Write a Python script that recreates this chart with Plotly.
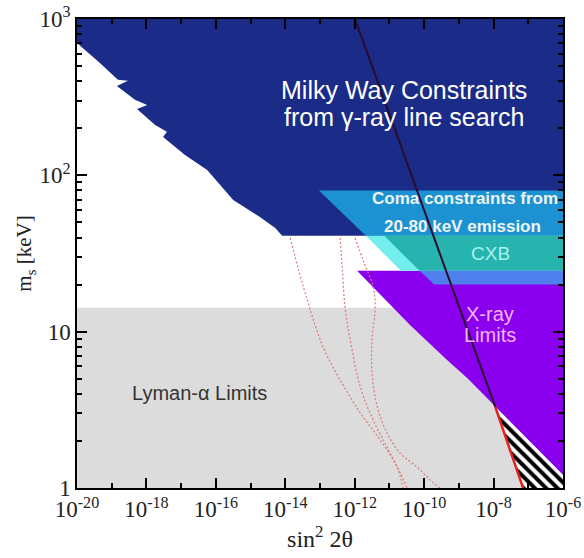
import plotly.graph_objects as go

# ---------------- data (sin^2 2theta , m_s [keV]) ----------------
mw_edge_x = [1e-20, 4.57e-20, 1.51e-19, 2.95e-19, 1.41e-19, 4.68e-19, 1.05e-18, 5.37e-19,
             1.78e-18, 3.89e-18, 3.02e-18, 1.29e-17, 5.62e-17, 3.16e-16, 1.86e-15, 5.13e-15, 8.13e-15]
mw_edge_y = [703, 524, 408, 402, 373, 304, 282, 266, 210, 190, 176, 135, 108, 69.6, 54.2, 46.1, 41]

coma_upper_x = [9.3e-14, 1e-6, 1e-6, 2.09e-12]
coma_upper_y = [80, 80, 41, 41]
coma_lower_x = [2.09e-12, 1e-6, 1e-6, 2.14e-11]
coma_lower_y = [41, 41, 24.5, 24.5]
cxb_x = [7.1e-12, 1e-6, 1e-6, 7.4e-11]
cxb_y = [41, 41, 24.5, 24.5]
strip_x = [7.4e-11, 1e-6, 1e-6, 1.95e-10]
strip_y = [24.5, 24.5, 20, 20]

xray_x = [1.17e-12, 1e-6, 1e-6, 1.12e-8, 5.01e-9, 1.74e-9, 4.57e-10, 3.98e-11]
xray_y = [24.5, 24.5, 1.21, 3.30, 3.94, 5.06, 6.59, 11.0]

hatch_x = [1.12e-8, 1e-6, 1e-6, 7.08e-8]
hatch_y = [3.30, 1.21, 1, 1]

lyman_x = [1e-20, 1e-6, 1e-6, 1e-20]
lyman_y = [1, 1, 14.2, 14.2]

dark_line_x = [1.02e-12, 1.12e-8]
dark_line_y = [1000, 3.30]
red_line_x = [1.12e-8, 7.08e-8]
red_line_y = [3.30, 1]

dot1_x = [1.38e-14, 4.27e-14, 1.23e-13, 3.80e-13, 1.45e-12, 5.37e-12, 1.66e-11, 2.45e-11]
dot1_y = [39.8, 16.0, 7.98, 4.91, 3.02, 2.03, 1.36, 1.0]
dot2_x = [3.80e-13, 4.37e-13, 5.25e-13, 7.41e-13, 1.45e-12, 3.39e-12, 8.51e-12, 2.04e-11, 3.24e-11]
dot2_y = [39.8, 25.9, 14.4, 8.85, 4.43, 2.72, 1.83, 1.25, 1.0]
dot3_x = [1.02e-12, 1.74e-12, 3.39e-12, 3.89e-12, 3.16e-12, 3.16e-12, 4.47e-12, 8.51e-12,
          2.04e-11, 6.31e-11, 1.82e-10, 2.88e-10]
dot3_y = [39.8, 28.7, 19.3, 14.4, 8.85, 5.44, 3.30, 2.25, 1.67, 1.36, 1.08, 1.0]

x_major = [1e-20, 1e-18, 1e-16, 1e-14, 1e-12, 1e-10, 1e-8, 1e-6]
x_major_text = ["10<sup>-20</sup>", "10<sup>-18</sup>", "10<sup>-16</sup>", "10<sup>-14</sup>",
                "10<sup>-12</sup>", "10<sup>-10</sup>", "10<sup>-8</sup>", "10<sup>-6</sup>"]
x_minor = [1e-19, 1e-17, 1e-15, 1e-13, 1e-11, 1e-9, 1e-7]
y_major = [1, 10, 100, 1000]
y_major_text = ["1", "10", "10<sup>2</sup>", "10<sup>3</sup>"]
y_minor = [m * d for d in (1, 10, 100) for m in range(2, 10)]

# ---------------- figure ----------------
fig = go.Figure()


def poly(x, y, color, **kw):
    fig.add_trace(go.Scatter(x=x + x[:1], y=y + y[:1], mode="lines", fill="toself",
                             fillcolor=color, line=dict(width=0, color=color),
                             hoverinfo="skip", showlegend=False, **kw))


# Milky Way region
mw_x = [1e-20, 1e-6, 1e-6] + mw_edge_x[::-1]
mw_y = [1000, 1000, 41] + mw_edge_y[::-1]
poly(mw_x, mw_y, "#1b2b88")
poly(lyman_x, lyman_y, "#dcdcdc")
poly(xray_x, xray_y, "#8a00ee")
poly(coma_upper_x, coma_upper_y, "#1d92d2")
poly(coma_lower_x, coma_lower_y, "#72eeee")
poly(cxb_x, cxb_y, "#27b4ae")
poly(strip_x, strip_y, "#4f80ee")

fig.add_trace(go.Scatter(x=hatch_x + hatch_x[:1], y=hatch_y + hatch_y[:1], mode="lines",
                         fill="toself", fillcolor="white", line=dict(width=0),
                         fillpattern=dict(shape="\\", fgcolor="black", bgcolor="white",
                                          fgopacity=1, size=8, solidity=0.5),
                         hoverinfo="skip", showlegend=False))

for dx, dy in ((dot1_x, dot1_y), (dot2_x, dot2_y), (dot3_x, dot3_y)):
    fig.add_trace(go.Scatter(x=dx, y=dy, mode="lines",
                             line=dict(color="#e07878", width=1.2, dash="2px,2px", shape="spline"),
                             hoverinfo="skip", showlegend=False))

fig.add_trace(go.Scatter(x=dark_line_x, y=dark_line_y, mode="lines",
                         line=dict(color="#2a0c2e", width=2), showlegend=False, hoverinfo="skip"))
fig.add_trace(go.Scatter(x=red_line_x, y=red_line_y, mode="lines",
                         line=dict(color="#e8201c", width=2.5), showlegend=False, hoverinfo="skip"))

sans = "Liberation Sans, Arial, sans-serif"
texts = [
    (-10.59, 2.546, "Milky Way Constraints", 25, "white", False),
    (-10.59, 2.375, "from γ-ray line search", 25, "white", False),
    (-8.82, 1.85, "Coma constraints from", 17, "#eef4f4", True),
    (-8.90, 1.67, "20-80 keV emission", 17, "#eef4f4", True),
    (-8.10, 1.497, "CXB", 19, "#a6f2ec", False),
    (-8.10, 1.11, "X-ray", 20, "#f4b4f4", False),
    (-8.10, 0.98, "Limits", 20, "#f4b4f4", False),
    (-16.46, 0.608, "Lyman-α Limits", 20, "#333333", False),
]
for tx, ty, t, sz, col, bold in texts:
    fig.add_annotation(x=tx, y=ty, xref="x", yref="y",
                       text="<b>%s</b>" % t if bold else t,
                       showarrow=False, font=dict(family=sans, size=sz, color=col))

serif = "Liberation Serif, Times New Roman, serif"
fig.update_xaxes(type="log", range=[-20, -6], showgrid=False, zeroline=False,
                 showline=True, linecolor="black", linewidth=1.5, mirror="allticks",
                 ticks="inside", ticklen=10, tickwidth=1.5, tickcolor="black",
                 tickvals=x_major, ticktext=x_major_text, ticklabeloverflow="allow",
                 minor=dict(tickvals=x_minor, ticks="inside", ticklen=5, tickwidth=1.5,
                            tickcolor="black", showgrid=False),
                 tickfont=dict(family=serif, size=23, color="#222222"),
                 title=dict(text="sin<sup>2</sup> 2θ", font=dict(family=serif, size=24, color="#222222"),
                            standoff=8),
                 automargin=False)
fig.update_yaxes(type="log", range=[0, 3], showgrid=False, zeroline=False,
                 showline=True, linecolor="black", linewidth=1.5, mirror="allticks",
                 ticks="inside", ticklen=10, tickwidth=1.5, tickcolor="black",
                 tickvals=y_major, ticktext=y_major_text, ticklabeloverflow="allow",
                 minor=dict(tickvals=y_minor, ticks="inside", ticklen=5, tickwidth=1.5,
                            tickcolor="black", showgrid=False),
                 tickfont=dict(family=serif, size=23, color="#222222"),
                 title=dict(text="m<sub>s</sub> [keV]", font=dict(family=serif, size=21, color="#222222"),
                            standoff=2),
                 automargin=False)

fig.update_layout(width=584, height=558, margin=dict(l=77, r=21, t=19, b=70),
                  paper_bgcolor="white", plot_bgcolor="white", showlegend=False)

fig.write_html("out.html", config={"displayModeBar": False},
               post_script="document.body.style.margin='0';")
